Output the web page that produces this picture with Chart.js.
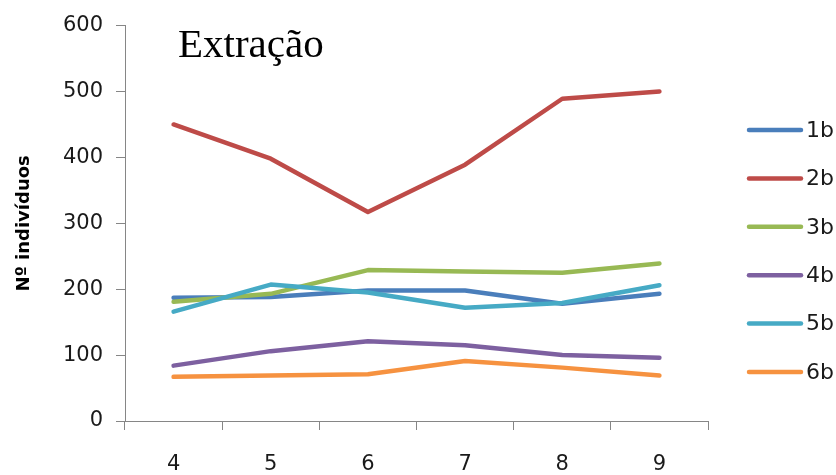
<!DOCTYPE html>
<html>
<head>
<meta charset="utf-8">
<script src="https://cdn.jsdelivr.net/npm/chart.js@4/dist/chart.umd.min.js"></script>
<style>
  html, body { margin: 0; padding: 0; background: #ffffff; }
  #wrap { width: 836px; height: 475px; position: relative; }
</style>
</head>
<body>
<div id="wrap"><canvas id="chart" width="836" height="475"></canvas></div>
<script>
// Categories on the horizontal axis
const categories = ['4', '5', '6', '7', '8', '9'];

// Number of individuals per series
const series1b = [187, 188, 198, 198, 178, 193];
const series2b = [450, 398, 317, 389, 489, 500];
const series3b = [181, 193, 229, 227, 225, 239];
const series4b = [84, 106, 121, 115, 100, 96];
const series5b = [166, 207, 195, 172, 179, 206];
const series6b = [67, 69, 71, 91, 81, 69];

const seriesLabels = ['1b', '2b', '3b', '4b', '5b', '6b'];
const seriesValues = [series1b, series2b, series3b, series4b, series5b, series6b];
const seriesColors = ['#4A7EBB', '#BE4B48', '#98B954', '#7D60A0', '#46AAC5', '#F69240'];

const chartTitle = 'Extração';
const yAxisTitle = 'Nº indivíduos';

const axisGray = '#868686';
const textColor = '#1a1a1a';

// Title text drawn inside the plot area, upper left
const titlePlugin = {
  id: 'innerTitle',
  afterDraw(chart) {
    const { ctx, chartArea } = chart;
    ctx.save();
    ctx.font = "41px 'Liberation Serif'";
    ctx.fillStyle = '#000000';
    ctx.textAlign = 'left';
    ctx.textBaseline = 'alphabetic';
    ctx.fillText(chartTitle, chartArea.left + 53, 57);
    ctx.restore();
  }
};

// Line-sample legend stacked on the right
const sideLegendPlugin = {
  id: 'sideLegend',
  afterDraw(chart) {
    const { ctx } = chart;
    ctx.save();
    chart.data.datasets.forEach((ds, i) => {
      const y = 130 + i * 48.4;
      ctx.strokeStyle = ds.borderColor;
      ctx.lineWidth = 4.5;
      ctx.lineCap = 'round';
      ctx.beginPath();
      ctx.moveTo(749, y);
      ctx.lineTo(801, y);
      ctx.stroke();
      ctx.font = "22px 'DejaVu Sans'";
      ctx.fillStyle = textColor;
      ctx.textAlign = 'left';
      ctx.textBaseline = 'middle';
      ctx.fillText(ds.label, 806, y + 1);
    });
    ctx.restore();
  }
};

const datasets = seriesLabels.map((label, i) => ({
  label,
  data: seriesValues[i],
  borderColor: seriesColors[i],
  backgroundColor: seriesColors[i],
  borderWidth: 4.5,
  borderCapStyle: 'round',
  borderJoinStyle: 'round',
  pointRadius: 0,
  pointHoverRadius: 0,
  tension: 0,
  fill: false,
  order: seriesLabels.length - i
}));

new Chart(document.getElementById('chart'), {
  type: 'line',
  data: { labels: categories, datasets },
  plugins: [titlePlugin, sideLegendPlugin],
  options: {
    responsive: false,
    animation: false,
    devicePixelRatio: 1,
    layout: { padding: { top: 23, right: 128, left: 0, bottom: 0 } },
    plugins: {
      legend: { display: false },
      title: { display: false },
      tooltip: { enabled: false }
    },
    scales: {
      x: {
        type: 'category',
        offset: true,
        afterFit(scale) { scale.height = 54; },
        grid: {
          offset: true,
          drawOnChartArea: false,
          drawTicks: true,
          tickLength: 9,
          color: axisGray,
          lineWidth: 1
        },
        border: { display: true, color: axisGray, width: 1 },
        ticks: {
          color: textColor,
          font: { family: 'DejaVu Sans', size: 21 },
          padding: 22,
          maxRotation: 0
        }
      },
      y: {
        min: 0,
        max: 600,
        afterFit(scale) { scale.width = 125; },
        grid: {
          drawOnChartArea: false,
          drawTicks: true,
          tickLength: 9,
          color: axisGray,
          lineWidth: 1
        },
        border: { display: true, color: axisGray, width: 1 },
        ticks: {
          stepSize: 100,
          color: textColor,
          font: { family: 'DejaVu Sans', size: 21 },
          padding: 13
        },
        title: {
          display: true,
          text: yAxisTitle,
          color: '#000000',
          font: { family: 'DejaVu Sans', size: 18, weight: 'bold' },
          padding: { top: 14, bottom: 0 }
        }
      }
    }
  }
});
</script>
</body>
</html>
